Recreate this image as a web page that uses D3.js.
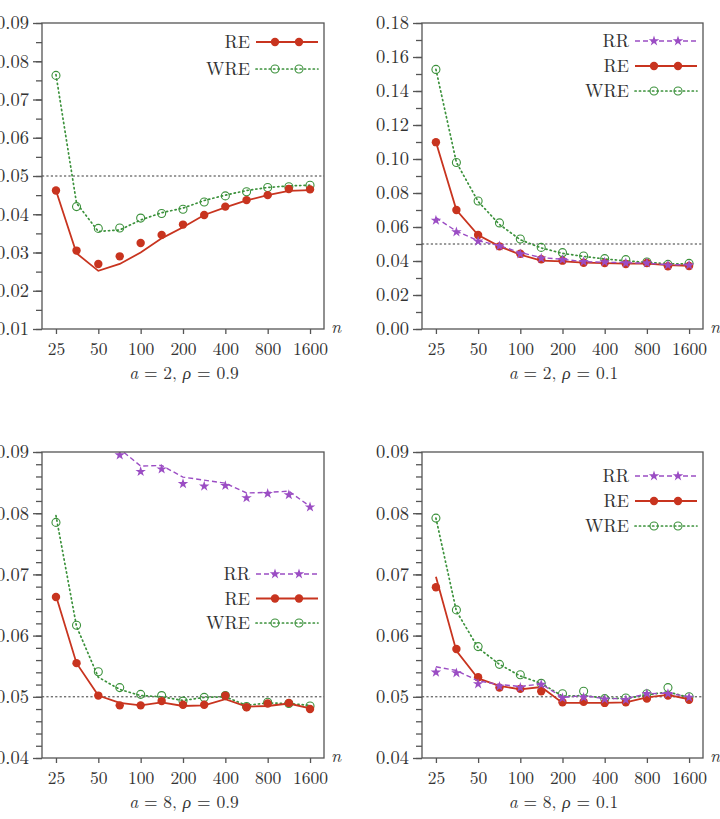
<!DOCTYPE html>
<html>
<head>
<meta charset="utf-8">
<script src="https://cdn.jsdelivr.net/npm/d3@7"></script>
<style>
  body { margin: 0; background: #fff; }
  svg { display: block; }
</style>
</head>
<body>
<div id="chart"></div>
<script>
// sample sizes on the x axis (half-doubling steps)
const nValues = [25, 35, 50, 71, 100, 141, 200, 283, 400, 566, 800, 1131, 1600];
const nTicks = [25, 50, 100, 200, 400, 800, 1600];
const nominal = 0.05;

// a = 2, rho = 0.9
const p1RELine  = [0.0462, 0.0298, 0.0252, 0.0270, 0.0300, 0.0337, 0.0366, 0.0398, 0.0418, 0.0436, 0.0450, 0.0461, 0.0463];
const p1REMark  = [0.0462, 0.0305, 0.0270, 0.0290, 0.0325, 0.0346, 0.0373, 0.0398, 0.0420, 0.0437, 0.0450, 0.0466, 0.0465];
const p1WRELine = [0.0765, 0.0429, 0.0355, 0.0359, 0.0385, 0.0404, 0.0416, 0.0436, 0.0450, 0.0462, 0.0470, 0.0474, 0.0476];
const p1WREMark = [0.0763, 0.0420, 0.0363, 0.0364, 0.0390, 0.0402, 0.0413, 0.0432, 0.0448, 0.0459, 0.0470, 0.0472, 0.0476];

// a = 2, rho = 0.1
const p2RRLine  = [0.0655, 0.0575, 0.0520, 0.0490, 0.0450, 0.0420, 0.0410, 0.0396, 0.0393, 0.0390, 0.0387, 0.0378, 0.0378];
const p2RRMark  = [0.0639, 0.0571, 0.0516, 0.0488, 0.0441, 0.0416, 0.0408, 0.0396, 0.0394, 0.0388, 0.0388, 0.0375, 0.0375];
const p2RELine  = [0.1100, 0.0700, 0.0553, 0.0486, 0.0437, 0.0402, 0.0398, 0.0390, 0.0388, 0.0384, 0.0384, 0.0376, 0.0372];
const p2REMark  = [0.1099, 0.0700, 0.0553, 0.0486, 0.0443, 0.0410, 0.0402, 0.0390, 0.0388, 0.0382, 0.0388, 0.0369, 0.0371];
const p2WRELine = [0.1527, 0.0980, 0.0750, 0.0615, 0.0525, 0.0477, 0.0445, 0.0427, 0.0412, 0.0401, 0.0392, 0.0384, 0.0383];
const p2WREMark = [0.1527, 0.0979, 0.0753, 0.0624, 0.0529, 0.0480, 0.0449, 0.0429, 0.0414, 0.0408, 0.0394, 0.0380, 0.0386];

// a = 8, rho = 0.9
const p3RRLine  = [0.0990, 0.0960, 0.0930, 0.0905, 0.0877, 0.0878, 0.0859, 0.0854, 0.0849, 0.0833, 0.0834, 0.0836, 0.0811];
const p3RRMark  = [0.0985, 0.0955, 0.0925, 0.0895, 0.0868, 0.0872, 0.0848, 0.0844, 0.0845, 0.0825, 0.0832, 0.0830, 0.0810];
const p3RELine  = [0.0665, 0.0555, 0.0502, 0.0490, 0.0486, 0.0491, 0.0485, 0.0486, 0.0496, 0.0484, 0.0485, 0.0489, 0.0481];
const p3REMark  = [0.0663, 0.0555, 0.0502, 0.0486, 0.0486, 0.0493, 0.0487, 0.0487, 0.0502, 0.0483, 0.0489, 0.0490, 0.0480];
const p3WRELine = [0.0796, 0.0615, 0.0532, 0.0512, 0.0502, 0.0500, 0.0494, 0.0499, 0.0500, 0.0486, 0.0490, 0.0489, 0.0486];
const p3WREMark = [0.0785, 0.0617, 0.0541, 0.0515, 0.0504, 0.0502, 0.0493, 0.0499, 0.0502, 0.0484, 0.0491, 0.0489, 0.0485];

// a = 8, rho = 0.1
const p4RRLine  = [0.0549, 0.0543, 0.0526, 0.0520, 0.0517, 0.0521, 0.0499, 0.0502, 0.0497, 0.0497, 0.0505, 0.0506, 0.0500];
const p4RRMark  = [0.0540, 0.0539, 0.0521, 0.0517, 0.0515, 0.0520, 0.0498, 0.0499, 0.0496, 0.0495, 0.0505, 0.0505, 0.0499];
const p4RELine  = [0.0696, 0.0575, 0.0530, 0.0518, 0.0512, 0.0516, 0.0490, 0.0490, 0.0490, 0.0491, 0.0499, 0.0503, 0.0496];
const p4REMark  = [0.0679, 0.0578, 0.0532, 0.0515, 0.0513, 0.0509, 0.0491, 0.0492, 0.0490, 0.0491, 0.0497, 0.0502, 0.0495];
const p4WRELine = [0.0792, 0.0640, 0.0580, 0.0553, 0.0534, 0.0522, 0.0501, 0.0502, 0.0498, 0.0497, 0.0503, 0.0508, 0.0499];
const p4WREMark = [0.0792, 0.0642, 0.0582, 0.0553, 0.0536, 0.0522, 0.0505, 0.0509, 0.0497, 0.0498, 0.0505, 0.0515, 0.0500];

// series styles
const styles = {
  RR:  { color: "#9b4dc4", dash: "5,3", width: 1.4, symbol: "star" },
  RE:  { color: "#c8341f", dash: null, width: 1.8, symbol: "dot" },
  WRE: { color: "#3b913b", dash: "1.2,3.2", width: 1.7, symbol: "ring" }
};

const panels = [
  { a: 2, rho: "0.9", left: 42, right: 324, top: 23, bottom: 329, y: [0.01, 0.09], step: 0.01, minor: 0.005,
    series: { RE: [p1RELine, p1REMark], WRE: [p1WRELine, p1WREMark] },
    legend: ["RE", "WRE"], legendTop: 19, legendGap: 27 },
  { a: 2, rho: "0.1", left: 422, right: 703, top: 23, bottom: 329, y: [0, 0.18], step: 0.02, minor: 0.01,
    series: { RR: [p2RRLine, p2RRMark], RE: [p2RELine, p2REMark], WRE: [p2WRELine, p2WREMark] },
    legend: ["RR", "RE", "WRE"], legendTop: 18, legendGap: 25 },
  { a: 8, rho: "0.9", left: 42, right: 324, top: 452, bottom: 758, y: [0.04, 0.09], step: 0.01, minor: 0.002,
    series: { RR: [p3RRLine, p3RRMark], RE: [p3RELine, p3REMark], WRE: [p3WRELine, p3WREMark] },
    legend: ["RR", "RE", "WRE"], legendTop: 122, legendGap: 24.5 },
  { a: 8, rho: "0.1", left: 422, right: 703, top: 452, bottom: 758, y: [0.04, 0.09], step: 0.01, minor: 0.002,
    series: { RR: [p4RRLine, p4RRMark], RE: [p4RELine, p4REMark], WRE: [p4WRELine, p4WREMark] },
    legend: ["RR", "RE", "WRE"], legendTop: 24, legendGap: 25 }
];

const FONT = "'Latin Modern Roman', 'Liberation Serif', serif";
const frameColor = "#555";
const textColor = "#333";

const svg = d3.select("#chart").append("svg")
  .attr("width", 720).attr("height", 819);

function drawMarker(g, kind, x, y) {
  const st = styles[kind];
  if (st.symbol === "dot") {
    g.append("circle").attr("cx", x).attr("cy", y).attr("r", 4.2).attr("fill", st.color);
  } else if (st.symbol === "ring") {
    g.append("circle").attr("cx", x).attr("cy", y).attr("r", 4)
      .attr("fill", "none").attr("stroke", st.color).attr("stroke-width", 1.1);
  } else {
    g.append("path").attr("d", d3.symbol(d3.symbolStar, 34)())
      .attr("transform", `translate(${x},${y})`).attr("fill", st.color);
  }
}

function label(g, x, y, size) {
  return g.append("text").attr("x", x).attr("y", y)
    .style("font-family", FONT).style("font-size", size + "px").style("fill", textColor);
}

panels.forEach((p, pi) => {
  const x = d3.scaleLog().base(2)
    .domain([25 * Math.pow(2, -0.33), 1600 * Math.pow(2, 0.33)])
    .range([p.left, p.right]);
  const y = d3.scaleLinear().domain(p.y).range([p.bottom, p.top]);

  const g = svg.append("g");

  g.append("clipPath").attr("id", "clip" + pi)
    .append("rect").attr("x", p.left).attr("y", p.top)
    .attr("width", p.right - p.left).attr("height", p.bottom - p.top);

  // nominal level
  g.append("line")
    .attr("x1", p.left).attr("x2", p.right)
    .attr("y1", y(nominal)).attr("y2", y(nominal))
    .attr("stroke", "#222").attr("stroke-width", 0.9).attr("stroke-dasharray", "2.2,2.2");

  const plot = g.append("g").attr("clip-path", `url(#clip${pi})`);
  const line = d3.line().x((d, i) => x(nValues[i])).y(d => y(d));

  ["WRE", "RE", "RR"].forEach(k => {
    if (!p.series[k]) return;
    const st = styles[k];
    const [ln, mk] = p.series[k];
    plot.append("path").datum(ln)
      .attr("d", line)
      .attr("fill", "none")
      .attr("stroke", st.color)
      .attr("stroke-width", st.width)
      .attr("stroke-linecap", k === "WRE" ? "round" : "butt")
      .attr("stroke-dasharray", st.dash);
    mk.forEach((v, i) => drawMarker(plot, k, x(nValues[i]), y(v)));
  });

  // frame
  g.append("rect")
    .attr("x", p.left).attr("y", p.top)
    .attr("width", p.right - p.left).attr("height", p.bottom - p.top)
    .attr("fill", "none").attr("stroke", frameColor).attr("stroke-width", 1.3);

  // y axis: major + minor ticks
  const majors = d3.range(p.y[0], p.y[1] + p.step / 2, p.step);
  const minors = d3.range(p.y[0], p.y[1] + p.minor / 2, p.minor);
  const yMinor = g.append("g").attr("transform", `translate(${p.left},0)`)
    .call(d3.axisLeft(y).tickValues(minors).tickSize(6).tickFormat(""));
  const yAxis = g.append("g").attr("transform", `translate(${p.left},0)`)
    .call(d3.axisLeft(y).tickValues(majors).tickSize(9).tickPadding(4).tickFormat(d3.format(".2f")));
  const xAxis = g.append("g").attr("transform", `translate(0,${p.bottom})`)
    .call(d3.axisBottom(x).tickValues(nTicks).tickSize(5).tickPadding(9).tickFormat(d3.format("d")));
  [yMinor, yAxis, xAxis].forEach(a => {
    a.select(".domain").remove();
    a.selectAll(".tick line").attr("stroke", frameColor).attr("stroke-width", 1.3);
    a.selectAll("text")
      .style("font-family", FONT).style("font-size", "17.5px").style("fill", textColor);
  });
  yAxis.selectAll("text").style("font-size", "18.5px");

  // axis variable n
  label(g, p.right + 7, p.bottom + 4, 18).style("font-style", "italic").text("n");

  // caption
  const cap = label(g, (p.left + p.right) / 2 + 1, p.bottom + 50, 17.5).attr("text-anchor", "middle");
  cap.append("tspan").style("font-style", "italic").text("a");
  cap.append("tspan").text(` = ${p.a}, `);
  cap.append("tspan").style("font-style", "italic").text("ρ");
  cap.append("tspan").text(` = ${p.rho}`);

  // legend
  const textRight = p.right - 74;
  p.legend.forEach((k, li) => {
    const ly = p.top + p.legendTop + li * p.legendGap;
    const st = styles[k];
    label(g, textRight, ly, 18).attr("dy", "0.35em").attr("text-anchor", "end").text(k);
    g.append("line")
      .attr("x1", textRight + 6).attr("x2", p.right - 6)
      .attr("y1", ly).attr("y2", ly)
      .attr("stroke", st.color).attr("stroke-width", st.width)
      .attr("stroke-linecap", k === "WRE" ? "round" : "butt")
      .attr("stroke-dasharray", st.dash);
    drawMarker(g, k, textRight + 25, ly);
    drawMarker(g, k, textRight + 49, ly);
  });
});
</script>
</body>
</html>
